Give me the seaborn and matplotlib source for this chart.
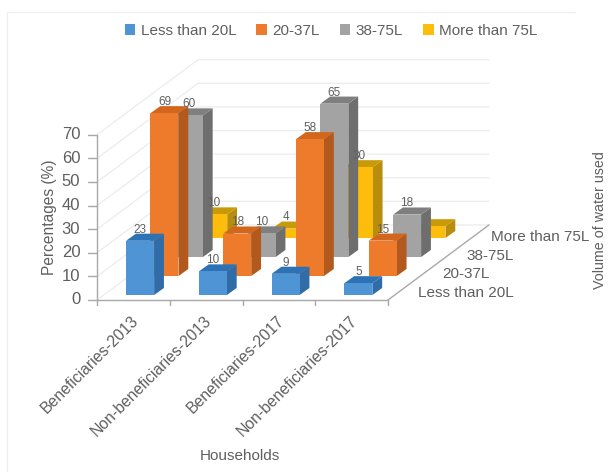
import matplotlib
matplotlib.use("Agg")
import matplotlib.pyplot as plt
from matplotlib.lines import Line2D
from matplotlib.patches import Patch, Polygon
import pandas as pd
import seaborn as sns

households = ["Beneficiaries-2013", "Non-beneficiaries-2013", "Beneficiaries-2017", "Non-beneficiaries-2017"]
volume_bins = ["Less than 20L", "20-37L", "38-75L", "More than 75L"]

less_than_20 = [23, 10, 9, 5]
from_20_to_37 = [69, 18, 58, 15]
from_38_to_75 = [60, 10, 65, 18]
more_than_75 = [10, 4, 30, 5]
series = [less_than_20, from_20_to_37, from_38_to_75, more_than_75]
hidden_labels = {(3, 3)}

y_ticks = [0, 10, 20, 30, 40, 50, 60, 70]

front_colors = ["#4f94d4", "#ee7b2c", "#a3a3a3", "#fdbd0a"]
side_colors = ["#2f6ca8", "#b25a1e", "#6e6e6e", "#b98d0c"]
top_colors = ["#2d72b4", "#d2661c", "#7f7f7f", "#c99a08"]
text_color = "#5f5f5f"
wall_color = "#ececec"
axis_color = "#a8a8a8"

# Oblique projection parameters, in axis units (categories horizontally, percent vertically)
PX_PER_CAT = 72.75
PX_PER_PCT = 2.36
FIRST_LEFT = 0.40
BAR_WIDTH = 0.385
ROW_DX = 0.335
ROW_DY = 8.05
FLOOR_START = 2.1
DEPTH_DX = 0.135
DEPTH_DY = 3.0
WALL_DX = 1.388
WALL_DY = 31.8

sns.set_theme(style="white")
plt.rcParams["font.family"] = ["Liberation Sans", "DejaVu Sans"]

fig = plt.figure(figsize=(6.09, 4.72), dpi=100, facecolor="white")
ax = fig.add_axes([0, 0, 1, 1])
ax.set_facecolor("white")

n = len(households)

# Faint outline along the top and left of the chart area
fig.add_artist(Line2D([7 / 609, 7 / 609, 575 / 609], [0, 1 - 12 / 472, 1 - 12 / 472],
                      transform=fig.transFigure, color="#efefef", linewidth=0.9))

# Wall gridlines: side wall diagonals, then the back wall
for t in y_ticks:
    ax.plot([0, WALL_DX, WALL_DX + n], [t, t + WALL_DY, t + WALL_DY],
            color=wall_color, linewidth=0.9, zorder=0.5)

# Bars are painted from the back row to the front so nearer rows overlap further ones
for row in reversed(range(len(volume_bins))):
    floor = FLOOR_START + row * ROW_DY
    lefts = [i + FIRST_LEFT + row * ROW_DX for i in range(n)]
    values = series[row]
    for left, value in zip(lefts, values):
        right = left + BAR_WIDTH
        top = floor + value
        ax.add_patch(Polygon([(right, floor), (right + DEPTH_DX, floor + DEPTH_DY),
                              (right + DEPTH_DX, top + DEPTH_DY), (right, top)],
                             closed=True, facecolor=side_colors[row], edgecolor="none"))
        ax.add_patch(Polygon([(left, top), (right, top), (right + DEPTH_DX, top + DEPTH_DY),
                              (left + DEPTH_DX, top + DEPTH_DY)],
                             closed=True, facecolor=top_colors[row], edgecolor="none"))
    frame = pd.DataFrame({"centre": [l + BAR_WIDTH / 2 for l in lefts], "value": values})
    sns.barplot(data=frame, x="centre", y="value", native_scale=True, width=BAR_WIDTH,
                bottom=floor, color=front_colors[row], saturation=1, errorbar=None,
                linewidth=0, ax=ax)

# Value labels above each bar
for row, values in enumerate(series):
    floor = FLOOR_START + row * ROW_DY
    for i, value in enumerate(values):
        if (row, i) in hidden_labels:
            continue
        ax.annotate(str(value), (i + FIRST_LEFT + row * ROW_DX + BAR_WIDTH / 2, floor + value),
                    xytext=(0, 8), textcoords="offset points", ha="center", va="center",
                    fontsize=8.5, color=text_color, zorder=6)

# Front axes
ax.plot([0, 0], [0, 70], color=axis_color, linewidth=1.0, zorder=5)
ax.plot([0, n], [0, 0], color=axis_color, linewidth=1.0, zorder=5)
ax.plot([n, n + WALL_DX], [0, WALL_DY], color=axis_color, linewidth=1.0, zorder=5)
for t in y_ticks:
    ax.plot([-0.12, 0], [t, t], color=axis_color, linewidth=1.0, zorder=5)
    ax.text(-0.23, t, str(t), ha="right", va="center", fontsize=12, color=text_color)
for i in range(n + 1):
    ax.plot([i, i], [0, -2.2], color=axis_color, linewidth=1.0, zorder=5)

# Category labels, slanted under the floor edge
for i, name in enumerate(households):
    ax.text(i + 0.54, -7.9, name, rotation=45, rotation_mode="anchor", ha="right", va="center",
            fontsize=11.3, color=text_color)

# Depth axis labels, stepping back along the floor edge
for row, name in enumerate(volume_bins):
    ax.text(n + 0.41 + row * ROW_DX, 3.0 + row * ROW_DY - 0.15 * row, name, ha="left", va="center",
            fontsize=11, color=text_color)

ax.text(-0.65, 35, "Percentages (%)", rotation=90, ha="center", va="center",
        fontsize=11.2, color=text_color)
ax.text(1.97, -66, "Households", ha="center", va="center", fontsize=11, color=text_color)
ax.text(6.92, 34, "Volume of water used", rotation=90, ha="center", va="center",
        fontsize=10.3, color=text_color)

handles = [Patch(facecolor=c, edgecolor="none", label=l) for c, l in zip(front_colors, volume_bins)]
ax.legend(handles=handles, loc="center", bbox_to_anchor=(331 / 609, 1 - 31 / 472), ncol=4,
          frameon=False, fontsize=11, handlelength=0.7, handleheight=0.7, handletextpad=0.35,
          columnspacing=1.3, labelcolor=text_color, borderpad=0)

ax.set_xlim(-97 / PX_PER_CAT, (609 - 97) / PX_PER_CAT)
ax.set_ylim(-172 / PX_PER_PCT, 300 / PX_PER_PCT)
ax.set_axis_off()

fig.savefig("out.png", dpi=100, facecolor="white")
